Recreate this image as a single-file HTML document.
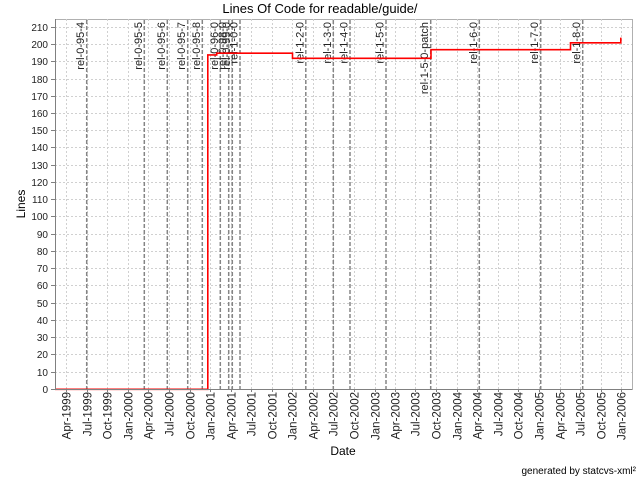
<!DOCTYPE html>
<html><head><meta charset="utf-8"><style>
html,body{margin:0;padding:0;background:#fff;}
svg{display:block;font-family:"Liberation Sans",sans-serif;}
</style></head><body>
<svg width="640" height="480" viewBox="0 0 640 480" xmlns="http://www.w3.org/2000/svg">
<rect x="0" y="0" width="640" height="480" fill="#fff"/>
<text x="320" y="13" font-size="13" text-anchor="middle" fill="#000">Lines Of Code for readable/guide/</text>
<rect x="55.5" y="19.5" width="577" height="370" fill="#fff" stroke="#b0b0b0" stroke-width="1"/>
<g stroke="#d0d0d0" stroke-width="1" stroke-dasharray="2,2" fill="none">
<line x1="55" y1="372.5" x2="632" y2="372.5"/><line x1="55" y1="354.5" x2="632" y2="354.5"/><line x1="55" y1="337.5" x2="632" y2="337.5"/><line x1="55" y1="320.5" x2="632" y2="320.5"/><line x1="55" y1="303.5" x2="632" y2="303.5"/><line x1="55" y1="285.5" x2="632" y2="285.5"/><line x1="55" y1="268.5" x2="632" y2="268.5"/><line x1="55" y1="251.5" x2="632" y2="251.5"/><line x1="55" y1="234.5" x2="632" y2="234.5"/><line x1="55" y1="216.5" x2="632" y2="216.5"/><line x1="55" y1="199.5" x2="632" y2="199.5"/><line x1="55" y1="182.5" x2="632" y2="182.5"/><line x1="55" y1="165.5" x2="632" y2="165.5"/><line x1="55" y1="147.5" x2="632" y2="147.5"/><line x1="55" y1="130.5" x2="632" y2="130.5"/><line x1="55" y1="113.5" x2="632" y2="113.5"/><line x1="55" y1="96.5" x2="632" y2="96.5"/><line x1="55" y1="79.5" x2="632" y2="79.5"/><line x1="55" y1="61.5" x2="632" y2="61.5"/><line x1="55" y1="44.5" x2="632" y2="44.5"/><line x1="55" y1="27.5" x2="632" y2="27.5"/>
<line x1="66.5" y1="19" x2="66.5" y2="389"/><line x1="87.5" y1="19" x2="87.5" y2="389"/><line x1="107.5" y1="19" x2="107.5" y2="389"/><line x1="128.5" y1="19" x2="128.5" y2="389"/><line x1="148.5" y1="19" x2="148.5" y2="389"/><line x1="169.5" y1="19" x2="169.5" y2="389"/><line x1="190.5" y1="19" x2="190.5" y2="389"/><line x1="210.5" y1="19" x2="210.5" y2="389"/><line x1="231.5" y1="19" x2="231.5" y2="389"/><line x1="251.5" y1="19" x2="251.5" y2="389"/><line x1="272.5" y1="19" x2="272.5" y2="389"/><line x1="292.5" y1="19" x2="292.5" y2="389"/><line x1="313.5" y1="19" x2="313.5" y2="389"/><line x1="333.5" y1="19" x2="333.5" y2="389"/><line x1="354.5" y1="19" x2="354.5" y2="389"/><line x1="375.5" y1="19" x2="375.5" y2="389"/><line x1="395.5" y1="19" x2="395.5" y2="389"/><line x1="415.5" y1="19" x2="415.5" y2="389"/><line x1="436.5" y1="19" x2="436.5" y2="389"/><line x1="457.5" y1="19" x2="457.5" y2="389"/><line x1="477.5" y1="19" x2="477.5" y2="389"/><line x1="498.5" y1="19" x2="498.5" y2="389"/><line x1="518.5" y1="19" x2="518.5" y2="389"/><line x1="539.5" y1="19" x2="539.5" y2="389"/><line x1="560.5" y1="19" x2="560.5" y2="389"/><line x1="580.5" y1="19" x2="580.5" y2="389"/><line x1="601.5" y1="19" x2="601.5" y2="389"/><line x1="621.5" y1="19" x2="621.5" y2="389"/>
</g>
<g stroke="#858585" stroke-width="1.5" stroke-dasharray="4,2" fill="none">
<line x1="86.7" y1="20" x2="86.7" y2="389"/><line x1="144.3" y1="20" x2="144.3" y2="389"/><line x1="167.3" y1="20" x2="167.3" y2="389"/><line x1="187.7" y1="20" x2="187.7" y2="389"/><line x1="202.3" y1="20" x2="202.3" y2="389"/><line x1="220.3" y1="20" x2="220.3" y2="389"/><line x1="228.7" y1="20" x2="228.7" y2="389"/><line x1="232.3" y1="20" x2="232.3" y2="389"/><line x1="240" y1="20" x2="240" y2="389"/><line x1="305.8" y1="20" x2="305.8" y2="389"/><line x1="333.3" y1="20" x2="333.3" y2="389"/><line x1="350" y1="20" x2="350" y2="389"/><line x1="386" y1="20" x2="386" y2="389"/><line x1="430.7" y1="20" x2="430.7" y2="389"/><line x1="479.3" y1="20" x2="479.3" y2="389"/><line x1="540.7" y1="20" x2="540.7" y2="389"/><line x1="582.7" y1="20" x2="582.7" y2="389"/>
</g>
<g font-size="11" fill="#222" text-anchor="end">
<text transform="translate(84.2,22) rotate(-90)">rel-0-95-4</text>
<text transform="translate(141.8,22) rotate(-90)">rel-0-95-5</text>
<text transform="translate(164.8,22) rotate(-90)">rel-0-95-6</text>
<text transform="translate(185.2,22) rotate(-90)">rel-0-95-7</text>
<text transform="translate(199.8,22) rotate(-90)">rel-0-95-8</text>
<text transform="translate(217.8,22) rotate(-90)">rel-0-96-0</text>
<text transform="translate(226.2,22) rotate(-90)">rel-0-98-0</text>
<text transform="translate(229.8,22) rotate(-90)">rel-0-99-0</text>
<text transform="translate(237.5,22) rotate(-90)">rel-1-0-0</text>
<text transform="translate(303.3,22) rotate(-90)">rel-1-2-0</text>
<text transform="translate(330.8,22) rotate(-90)">rel-1-3-0</text>
<text transform="translate(347.5,22) rotate(-90)">rel-1-4-0</text>
<text transform="translate(383.5,22) rotate(-90)">rel-1-5-0</text>
<text transform="translate(428.2,22) rotate(-90)">rel-1-5-0-patch</text>
<text transform="translate(476.8,22) rotate(-90)">rel-1-6-0</text>
<text transform="translate(538.2,22) rotate(-90)">rel-1-7-0</text>
<text transform="translate(580.2,22) rotate(-90)">rel-1-8-0</text>
</g>
<polyline fill="none" stroke="#ff0000" stroke-width="1.6" points="55,389.3 207.8,389.3 207.8,54.9 216.7,54.9 216.7,53.2 292.5,53.2 292.5,58.3 431,58.3 431,49.7 570.5,49.7 570.5,42.8 620.8,42.8 620.8,37.6"/>
<line x1="55.5" y1="19" x2="55.5" y2="390" stroke="#808080" stroke-width="1"/>
<line x1="55" y1="389.5" x2="632" y2="389.5" stroke="#808080" stroke-width="1"/>
<g stroke="#808080" stroke-width="1">
<line x1="51" y1="389.5" x2="55" y2="389.5"/><line x1="51" y1="372.5" x2="55" y2="372.5"/><line x1="51" y1="354.5" x2="55" y2="354.5"/><line x1="51" y1="337.5" x2="55" y2="337.5"/><line x1="51" y1="320.5" x2="55" y2="320.5"/><line x1="51" y1="303.5" x2="55" y2="303.5"/><line x1="51" y1="285.5" x2="55" y2="285.5"/><line x1="51" y1="268.5" x2="55" y2="268.5"/><line x1="51" y1="251.5" x2="55" y2="251.5"/><line x1="51" y1="234.5" x2="55" y2="234.5"/><line x1="51" y1="216.5" x2="55" y2="216.5"/><line x1="51" y1="199.5" x2="55" y2="199.5"/><line x1="51" y1="182.5" x2="55" y2="182.5"/><line x1="51" y1="165.5" x2="55" y2="165.5"/><line x1="51" y1="147.5" x2="55" y2="147.5"/><line x1="51" y1="130.5" x2="55" y2="130.5"/><line x1="51" y1="113.5" x2="55" y2="113.5"/><line x1="51" y1="96.5" x2="55" y2="96.5"/><line x1="51" y1="79.5" x2="55" y2="79.5"/><line x1="51" y1="61.5" x2="55" y2="61.5"/><line x1="51" y1="44.5" x2="55" y2="44.5"/><line x1="51" y1="27.5" x2="55" y2="27.5"/>
<line x1="66.5" y1="389" x2="66.5" y2="392"/><line x1="87.5" y1="389" x2="87.5" y2="392"/><line x1="107.5" y1="389" x2="107.5" y2="392"/><line x1="128.5" y1="389" x2="128.5" y2="392"/><line x1="148.5" y1="389" x2="148.5" y2="392"/><line x1="169.5" y1="389" x2="169.5" y2="392"/><line x1="190.5" y1="389" x2="190.5" y2="392"/><line x1="210.5" y1="389" x2="210.5" y2="392"/><line x1="231.5" y1="389" x2="231.5" y2="392"/><line x1="251.5" y1="389" x2="251.5" y2="392"/><line x1="272.5" y1="389" x2="272.5" y2="392"/><line x1="292.5" y1="389" x2="292.5" y2="392"/><line x1="313.5" y1="389" x2="313.5" y2="392"/><line x1="333.5" y1="389" x2="333.5" y2="392"/><line x1="354.5" y1="389" x2="354.5" y2="392"/><line x1="375.5" y1="389" x2="375.5" y2="392"/><line x1="395.5" y1="389" x2="395.5" y2="392"/><line x1="415.5" y1="389" x2="415.5" y2="392"/><line x1="436.5" y1="389" x2="436.5" y2="392"/><line x1="457.5" y1="389" x2="457.5" y2="392"/><line x1="477.5" y1="389" x2="477.5" y2="392"/><line x1="498.5" y1="389" x2="498.5" y2="392"/><line x1="518.5" y1="389" x2="518.5" y2="392"/><line x1="539.5" y1="389" x2="539.5" y2="392"/><line x1="560.5" y1="389" x2="560.5" y2="392"/><line x1="580.5" y1="389" x2="580.5" y2="392"/><line x1="601.5" y1="389" x2="601.5" y2="392"/><line x1="621.5" y1="389" x2="621.5" y2="392"/>
</g>
<g font-size="10" fill="#222" text-anchor="end">
<text x="48" y="393">0</text><text x="48" y="376">10</text><text x="48" y="358">20</text><text x="48" y="341">30</text><text x="48" y="324">40</text><text x="48" y="307">50</text><text x="48" y="289">60</text><text x="48" y="272">70</text><text x="48" y="255">80</text><text x="48" y="238">90</text><text x="48" y="220">100</text><text x="48" y="203">110</text><text x="48" y="186">120</text><text x="48" y="169">130</text><text x="48" y="151">140</text><text x="48" y="134">150</text><text x="48" y="117">160</text><text x="48" y="100">170</text><text x="48" y="83">180</text><text x="48" y="65">190</text><text x="48" y="48">200</text><text x="48" y="31">210</text>
</g>
<g font-size="11.5" fill="#222" text-anchor="end">
<text transform="translate(70.5,392) rotate(-90)">Apr-1999</text>
<text transform="translate(91.5,392) rotate(-90)">Jul-1999</text>
<text transform="translate(111.5,392) rotate(-90)">Oct-1999</text>
<text transform="translate(132.5,392) rotate(-90)">Jan-2000</text>
<text transform="translate(152.5,392) rotate(-90)">Apr-2000</text>
<text transform="translate(173.5,392) rotate(-90)">Jul-2000</text>
<text transform="translate(194.5,392) rotate(-90)">Oct-2000</text>
<text transform="translate(214.5,392) rotate(-90)">Jan-2001</text>
<text transform="translate(235.5,392) rotate(-90)">Apr-2001</text>
<text transform="translate(255.5,392) rotate(-90)">Jul-2001</text>
<text transform="translate(276.5,392) rotate(-90)">Oct-2001</text>
<text transform="translate(296.5,392) rotate(-90)">Jan-2002</text>
<text transform="translate(317.5,392) rotate(-90)">Apr-2002</text>
<text transform="translate(337.5,392) rotate(-90)">Jul-2002</text>
<text transform="translate(358.5,392) rotate(-90)">Oct-2002</text>
<text transform="translate(379.5,392) rotate(-90)">Jan-2003</text>
<text transform="translate(399.5,392) rotate(-90)">Apr-2003</text>
<text transform="translate(419.5,392) rotate(-90)">Jul-2003</text>
<text transform="translate(440.5,392) rotate(-90)">Oct-2003</text>
<text transform="translate(461.5,392) rotate(-90)">Jan-2004</text>
<text transform="translate(481.5,392) rotate(-90)">Apr-2004</text>
<text transform="translate(502.5,392) rotate(-90)">Jul-2004</text>
<text transform="translate(522.5,392) rotate(-90)">Oct-2004</text>
<text transform="translate(543.5,392) rotate(-90)">Jan-2005</text>
<text transform="translate(564.5,392) rotate(-90)">Apr-2005</text>
<text transform="translate(584.5,392) rotate(-90)">Jul-2005</text>
<text transform="translate(605.5,392) rotate(-90)">Oct-2005</text>
<text transform="translate(625.5,392) rotate(-90)">Jan-2006</text>
</g>
<text transform="translate(25,204) rotate(-90)" font-size="12" text-anchor="middle" fill="#000">Lines</text>
<text x="343" y="455" font-size="12" text-anchor="middle" fill="#000">Date</text>
<text x="636" y="474" font-size="10" text-anchor="end" fill="#000">generated by statcvs-xml²</text>
</svg>
</body></html>
